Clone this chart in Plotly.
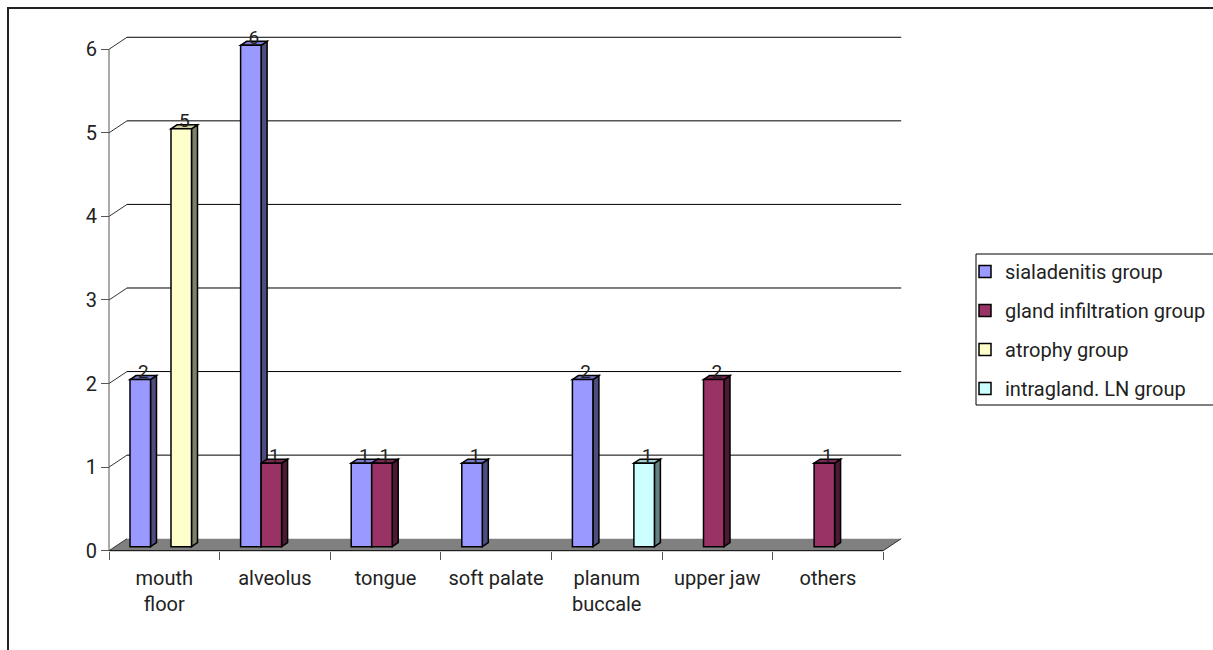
import plotly.graph_objects as go

# ---------------- data ----------------
categories = ["mouth floor", "alveolus", "tongue", "soft palate",
              "planum buccale", "upper jaw", "others"]
tick_labels = ["mouth<br>floor", "alveolus", "tongue", "soft palate",
               "planum<br>buccale", "upper jaw", "others"]
series_names = ["sialadenitis group", "gland infiltration group",
                "atrophy group", "intragland. LN group"]
sialadenitis = [2, 6, 1, 1, 2, None, None]
gland_infiltration = [None, 1, 1, None, None, 2, 1]
atrophy = [5, None, None, None, None, None, None]
intragland_ln = [None, None, None, None, 1, None, None]
y_tick_values = [0, 1, 2, 3, 4, 5, 6]

series_values = [sialadenitis, gland_infiltration, atrophy, intragland_ln]

# ---------------- styles ----------------
front_colors = ["#9999FF", "#993366", "#FFFFCC", "#CCFFFF"]
side_colors = ["#4D4D80", "#4D1A33", "#80806A", "#668080"]
top_colors = ["#7A7ACC", "#7A2952", "#CCCCA3", "#A3CCCC"]
FONT = "Roboto"

W, H = 1213, 650
# pixel geometry of the front plane
X_LEFT_PX = 109.0      # category -0.5 boundary
X_UNIT = 110.6         # px per category
Y_ZERO_PX = 550.7      # y=0 on the front plane
Y_UNIT = 83.57         # px per value unit
# plot area (px)
PA_L, PA_R, PA_T, PA_B = 100.0, 910.0, 28.0, 562.0

x_range = [-0.5 - (X_LEFT_PX - PA_L) / X_UNIT, -0.5 + (PA_R - X_LEFT_PX) / X_UNIT]
y_range = [-(PA_B - Y_ZERO_PX) / Y_UNIT, (Y_ZERO_PX - PA_T) / Y_UNIT]

# 3D offsets (in data units)
DX, DY = 18 / X_UNIT, 12 / Y_UNIT          # floor / wall depth
BX, BY = 6.7 / X_UNIT, 4 / Y_UNIT          # bar plane offset
DDX, DDY = 6 / X_UNIT, 4 / Y_UNIT          # bar depth
BAR_W = 20.5 / X_UNIT
FIRST_OFF = 21 / X_UNIT - 0.5

fig = go.Figure()
shapes = []

def line(x0, y0, x1, y1, color="black", width=1, xref="x2", yref="y", layer="below"):
    return dict(type="line", x0=x0, y0=y0, x1=x1, y1=y1, xref=xref, yref=yref,
                line=dict(color=color, width=width), layer=layer)

def poly(points, fill, lw=1.5, lc="black", layer="below"):
    p = "M " + " L ".join(f"{x:.5f},{y:.5f}" for x, y in points) + " Z"
    return dict(type="path", path=p, xref="x2", yref="y", fillcolor=fill,
                line=dict(color=lc, width=lw), layer=layer)

n = len(categories)
# floor
shapes.append(poly([(-0.5, 0), (n - 0.5, 0), (n - 0.5 + DX, DY), (-0.5 + DX, DY)],
                   "#808080", lw=0, lc="rgba(0,0,0,0)"))
shapes.append(line(-0.5, 0, -0.5 + DX, DY, color="#333"))
shapes.append(line(n - 0.5, 0, n - 0.5 + DX, DY, color="#333"))
shapes.append(line(-0.5, 0, n - 0.5, 0, color="black"))
# back-wall gridlines
for v in y_tick_values[1:]:
    shapes.append(line(-0.5 + DX, v + DY, n - 0.5 + DX, v + DY, color="black"))
    shapes.append(line(-0.5, v, -0.5 + DX, v + DY, color="#333"))
# value axis line
shapes.append(line(-0.5, 0, -0.5, y_tick_values[-1], color="#555"))

# bars + 3D faces
lab_x, lab_y, lab_t = [], [], []
for k, (name, vals) in enumerate(zip(series_names, series_values)):
    off = FIRST_OFF + k * BAR_W
    fig.add_trace(go.Bar(
        x=categories, y=vals, base=[BY] * n, name=name,
        width=BAR_W, offset=off,
        marker=dict(color=front_colors[k], line=dict(color="black", width=1.5)),
        legendgroup=f"g{k}", hoverinfo="skip",
    ))
for i in range(n):
    for k, vals in enumerate(series_values):
        v = vals[i]
        if v is None:
            continue
        x0 = i + FIRST_OFF + k * BAR_W
        x1 = x0 + BAR_W
        b, t = BY, BY + v
        shapes.append(poly([(x1, b), (x1 + DDX, b + DDY), (x1 + DDX, t + DDY), (x1, t)],
                           side_colors[k]))
        shapes.append(poly([(x0, t), (x0 + DDX, t + DDY), (x1 + DDX, t + DDY), (x1, t)],
                           top_colors[k]))
        lab_x.append(x0 + BAR_W / 2 + DDX / 2)
        lab_y.append(t + 0.075)
        lab_t.append(str(v))

fig.add_trace(go.Scatter(
    x=lab_x, y=lab_y, text=lab_t, mode="text", xaxis="x2", yaxis="y",
    textposition="middle center", textfont=dict(family=FONT, size=19, color="#222"),
    showlegend=False, hoverinfo="skip", cliponaxis=False,
))

# outer chart border & legend frame
shapes.append(dict(type="rect", xref="paper", yref="paper",
                   x0=8 / W, x1=1.05, y0=-0.05, y1=1 - 8 / H,
                   line=dict(color="#222", width=2), layer="above"))
shapes.append(dict(type="rect", xref="paper", yref="paper",
                   x0=976 / W, x1=1.05, y0=1 - 405 / H, y1=1 - 254 / H,
                   line=dict(color="black", width=1), layer="above"))

fig.update_layout(
    width=W, height=H,
    margin=dict(l=0, r=0, t=0, b=0),
    paper_bgcolor="white", plot_bgcolor="rgba(0,0,0,0)",
    barmode="overlay",
    showlegend=True,
    font=dict(family=FONT, color="#222"),
    xaxis=dict(
        type="category", categoryorder="array", categoryarray=categories,
        tickvals=categories, ticktext=tick_labels,
        range=x_range, domain=[PA_L / W, PA_R / W],
        anchor="free", position=1 - Y_ZERO_PX / H,
        tickson="boundaries", ticks="outside", ticklen=8, tickcolor="#555",
        ticklabelstandoff=13,
        showgrid=False, zeroline=False, showline=False,
        tickfont=dict(family=FONT, size=20, color="#222"),
        automargin=False, fixedrange=True,
    ),
    xaxis2=dict(
        overlaying="x", range=x_range, visible=False, showgrid=False,
        zeroline=False, anchor="y", fixedrange=True,
    ),
    yaxis=dict(
        range=y_range, domain=[1 - PA_B / H, 1 - PA_T / H],
        anchor="free", position=X_LEFT_PX / W,
        tickvals=y_tick_values, ticks="outside", ticklen=8, tickcolor="#555",
        showgrid=False, zeroline=False, showline=False,
        tickfont=dict(family=FONT, size=20, color="#222"),
        automargin=False, fixedrange=True,
    ),
    legend=dict(
        x=965 / W, xanchor="left", y=1 - 252 / H, yanchor="top",
        font=dict(family=FONT, size=20, color="#222"),
        bgcolor="rgba(0,0,0,0)", borderwidth=0,
        tracegroupgap=10, traceorder="grouped",
    ),
    shapes=shapes,
)

fig.write_html("out.html")
